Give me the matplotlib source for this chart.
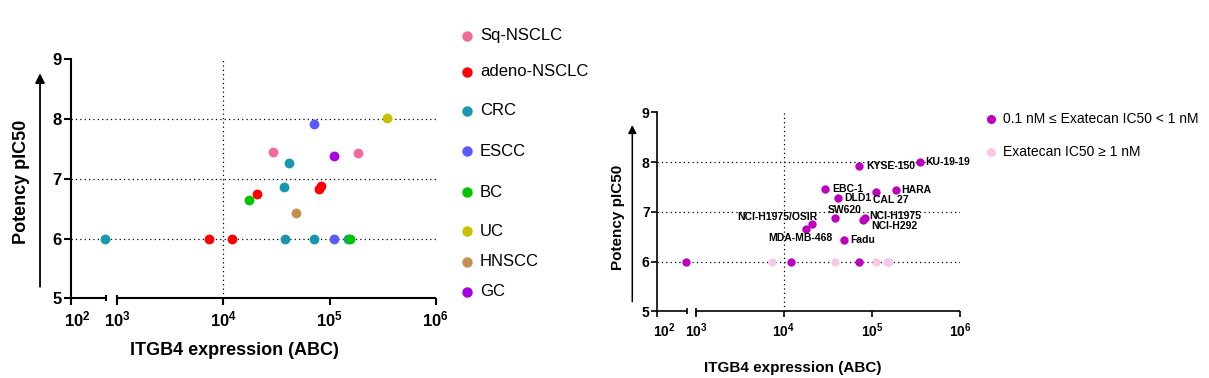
import numpy as np
import matplotlib
matplotlib.use("Agg")
import matplotlib.pyplot as plt
from matplotlib.lines import Line2D
from matplotlib.patches import FancyArrowPatch
from matplotlib.ticker import NullLocator
from matplotlib.transforms import ScaledTranslation

plt.rcParams['font.family'] = ['Liberation Sans', 'DejaVu Sans']
plt.rcParams['mathtext.fontset'] = 'custom'
plt.rcParams['mathtext.rm'] = 'Liberation Sans'
plt.rcParams['mathtext.bf'] = 'Liberation Sans:bold'

# ---- data ----
expr = [940, 7330, 12000, 38200, 70600, 110700, 148000, 156700,
        347600, 71100, 29200, 185000, 110700, 41300, 37600,
        20800, 17600, 80000, 82200, 47800]
pic50 = [6.0, 6.0, 6.0, 6.0, 6.0, 6.0, 6.0, 6.0,
         8.01, 7.91, 7.45, 7.43, 7.39, 7.27, 6.87,
         6.75, 6.65, 6.83, 6.88, 6.43]
cancer = ['CRC', 'adeno-NSCLC', 'adeno-NSCLC', 'CRC', 'CRC', 'ESCC', 'CRC', 'BC',
          'UC', 'ESCC', 'Sq-NSCLC', 'Sq-NSCLC', 'GC', 'CRC', 'CRC',
          'adeno-NSCLC', 'BC', 'adeno-NSCLC', 'adeno-NSCLC', 'HNSCC']
cell_line = ['', '', '', '', '', '', '', '',
             'KU-19-19', 'KYSE-150', 'EBC-1', 'HARA', 'CAL 27', 'DLD1', 'SW620',
             'NCI-H1975/OSIR', 'MDA-MB-468', 'NCI-H292', 'NCI-H1975', 'Fadu']
# 1 = 0.1 nM <= Exatecan IC50 < 1 nM, 0 = Exatecan IC50 >= 1 nM
exatecan_group = [1, 0, 1, 0, 1, 0, 0, 0,
                  1, 1, 1, 1, 1, 1, 1,
                  1, 1, 1, 1, 1]

cancer_types = ['Sq-NSCLC', 'adeno-NSCLC', 'CRC', 'ESCC', 'BC', 'UC', 'HNSCC', 'GC']
cancer_colors = ['#F06C9B', '#FF0000', '#1798B0', '#5A5AFF', '#00C400', '#C8C000', '#C49050', '#A800E0']
group_labels = ['0.1 nM \u2264 Exatecan IC50 < 1 nM', 'Exatecan IC50 \u2265 1 nM']
group_colors = ['#BE00BE', '#F6C8EA']

# label placement for right panel: (dx px, dy px, ha)
label_pos = {
    'KU-19-19': (6, 0, 'left'), 'KYSE-150': (7, 0, 'left'), 'EBC-1': (7, 0, 'left'),
    'HARA': (6, 0, 'left'), 'CAL 27': (-3, -8, 'left'), 'DLD1': (6, 0, 'left'),
    'SW620': (-7, 8, 'left'), 'NCI-H1975/OSIR': (5, 7, 'right'),
    'MDA-MB-468': (-5, -9, 'center'), 'NCI-H292': (8, -6, 'left'),
    'NCI-H1975': (5, 2, 'left'), 'Fadu': (6, 0, 'left'),
}

# ---- broken log axis: 10^2..10^3 squeezed, then gap, then 10^3..10^6 ----
SEG1, GAP = 0.333, 0.105


def fwd(x):
    x = np.maximum(np.asarray(x, float), 1e-9)
    u = np.log10(x)
    return np.where(x < 1000, (u - 2) * SEG1, SEG1 + GAP + u - 3)


def inv(v):
    v = np.asarray(v, float)
    return np.where(v < SEG1, 10 ** (2 + v / SEG1),
                    np.where(v < SEG1 + GAP, 1000.0, 10 ** (3 + v - SEG1 - GAP)))


def style_axes(ax, fs, lw, tlen):
    ax.set_xscale('function', functions=(fwd, inv))
    ax.set_xlim(100, 1e6)
    ax.set_ylim(5, 9)
    for s in ('top', 'right', 'bottom'):
        ax.spines[s].set_visible(False)
    ax.spines['left'].set_linewidth(lw)
    ax.set_yticks([5, 6, 7, 8, 9])
    ax.set_xticks([1e2, 1e3, 1e4, 1e5, 1e6])
    ax.set_xticklabels([r'$\mathbf{10^{%d}}$' % k for k in range(2, 7)])
    ax.xaxis.set_minor_locator(NullLocator())
    ax.tick_params(width=lw, length=tlen, labelsize=fs, pad=1.5)
    ax.tick_params(axis='x', pad=3)
    for t in ax.get_yticklabels():
        t.set_fontweight('bold')
    # the 10^2 label sits a little right of its tick in the original
    lab0 = ax.get_xticklabels()[0]
    lab0.set_transform(lab0.get_transform() + ScaledTranslation(0.07, 0, ax.figure.dpi_scale_trans))
    dots = (0, (1, 2.5))
    for y in (6, 7, 8):
        ax.axhline(y, color='k', lw=0.9, ls=dots, zorder=1)
    ax.axvline(1e4, color='k', lw=0.9, ls=dots, zorder=1)
    ax.plot([100, 999.999], [5, 5], color='k', lw=lw, clip_on=False, solid_capstyle='butt')
    ax.plot([1000, 1e6], [5, 5], color='k', lw=lw, clip_on=False, solid_capstyle='butt')
    ax.plot([999.999, 1000], [5, 5], ls='none', marker='|', ms=tlen, mew=lw,
            color='k', clip_on=False)


fig = plt.figure(figsize=(12.09, 3.78), dpi=100)

# ---- left panel: by cancer type ----
ax1 = fig.add_axes([0.0585, 0.2108, 0.3019, 0.6323])
style_axes(ax1, 12, 1.5, 5)
for ct, col in zip(cancer_types, cancer_colors):
    xs = [x for x, c in zip(expr, cancer) if c == ct]
    ys = [y for y, c in zip(pic50, cancer) if c == ct]
    ax1.scatter(xs, ys, s=50, color=col, linewidths=0, zorder=3, clip_on=False)

fig.text(0.1937, 0.074, 'ITGB4 expression (ABC)', ha='center', va='center',
         fontsize=13, fontweight='bold')
fig.text(0.018, 0.519, 'Potency pIC50', ha='center', va='center', rotation=90,
         fontsize=13, fontweight='bold')
fig.add_artist(FancyArrowPatch((0.0331, 0.2415), (0.0331, 0.806), transform=fig.transFigure,
                               arrowstyle='-|>', mutation_scale=14, lw=1.3, color='k',
                               shrinkA=0, shrinkB=0))

leg_y = [35.7, 71.7, 110.7, 151, 192.3, 231, 261.7, 291.7]
for ct, col, yp in zip(cancer_types, cancer_colors, leg_y):
    fy = 1 - yp / 378
    fig.add_artist(Line2D([0.3865], [fy], marker='o', ms=7.5, color=col, mew=0,
                          transform=fig.transFigure))
    fig.text(0.397, fy, ct, ha='left', va='center', fontsize=12)

# ---- right panel: by Exatecan sensitivity ----
ax2 = fig.add_axes([0.5437, 0.1765, 0.2504, 0.5265])
style_axes(ax2, 10, 1.2, 4)
for g in (0, 1):
    xs = [x for x, e in zip(expr, exatecan_group) if e == g]
    ys = [y for y, e in zip(pic50, exatecan_group) if e == g]
    ax2.scatter(xs, ys, s=36, color=group_colors[1 - g], linewidths=0, zorder=3, clip_on=False)

for x, y, name in zip(expr, pic50, cell_line):
    if not name:
        continue
    dx, dy, ha = label_pos[name]
    ax2.annotate(name, (x, y), xytext=(dx, dy), textcoords='offset pixels',
                 ha=ha, va='center', fontsize=7.5, fontweight='bold', zorder=4)

fig.text(0.6555, 0.0257, 'ITGB4 expression (ABC)', ha='center', va='center',
         fontsize=11, fontweight='bold')
fig.text(0.5114, 0.426, 'Potency pIC50', ha='center', va='center', rotation=90,
         fontsize=11, fontweight='bold')
fig.add_artist(FancyArrowPatch((0.523, 0.2019), (0.523, 0.6693), transform=fig.transFigure,
                               arrowstyle='-|>', mutation_scale=12, lw=1.1, color='k',
                               shrinkA=0, shrinkB=0))

for lab, col, yp in zip(group_labels, group_colors, [119, 152.3]):
    fy = 1 - yp / 378
    fig.add_artist(Line2D([0.8194], [fy], marker='o', ms=6.5, color=col, mew=0,
                          transform=fig.transFigure))
    fig.text(0.8299, fy, lab, ha='left', va='center', fontsize=10)

fig.savefig('out.png', dpi=100)
